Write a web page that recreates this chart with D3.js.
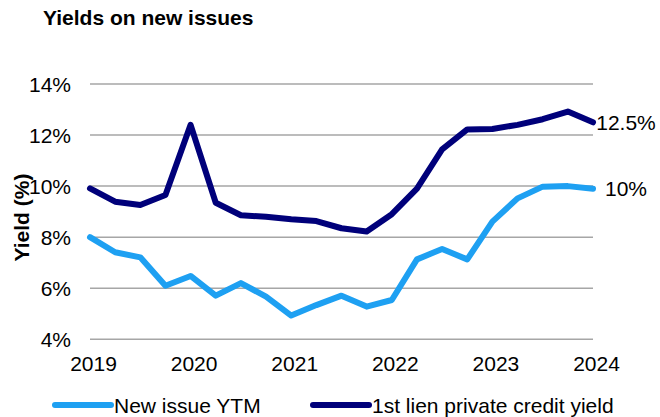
<!DOCTYPE html>
<html>
<head>
<meta charset="utf-8">
<script src="https://cdn.jsdelivr.net/npm/d3@7"></script>
<style>
  html, body { margin: 0; padding: 0; background: #fff; }
  svg { display: block; font-family: "Liberation Sans", Arial, sans-serif; }
</style>
</head>
<body>
<svg id="chart" width="660" height="417"></svg>
<script>
// Quarterly observations, Q1 2019 through Q1 2024
const quarters = d3.range(21).map(i => 2019 + i / 4);
const newIssueYTM = [8.0, 7.41, 7.21, 6.1, 6.48, 5.71, 6.2, 5.67, 4.93, 5.34, 5.71,
                     5.28, 5.54, 7.13, 7.54, 7.13, 8.61, 9.52, 9.98, 10.0, 9.9];
const firstLienYield = [9.91, 9.39, 9.26, 9.65, 12.4, 9.35, 8.86, 8.8, 8.7, 8.63, 8.35,
                        8.22, 8.9, 9.9, 11.44, 12.22, 12.24, 12.4, 12.62, 12.92, 12.5];
const yearTicks = [2019, 2020, 2021, 2022, 2023, 2024];
const yTicks = [4, 6, 8, 10, 12, 14];

const seriesNames = ["New issue YTM", "1st lien private credit yield"];
const seriesColors = ["#1ea0f2", "#00007a"];
const seriesValues = [newIssueYTM, firstLienYield];

const svg = d3.select("#chart");
const x = d3.scaleLinear().domain([2019, 2024]).range([90, 593]);
const y = d3.scaleLinear().domain([4, 14]).range([339.3, 84]);

// Title
svg.append("text")
  .attr("x", 43).attr("y", 25)
  .attr("font-size", 21).attr("font-weight", "bold")
  .attr("fill", "#000")
  .text("Yields on new issues");

// Horizontal gridlines
svg.append("g").selectAll("line").data(yTicks).join("line")
  .attr("x1", x(2019)).attr("x2", x(2024))
  .attr("y1", d => y(d)).attr("y2", d => y(d))
  .attr("stroke", "#a6a6a6").attr("stroke-width", 1.5);

// Y axis labels
const yAxis = d3.axisLeft(y).tickValues(yTicks).tickFormat(d => d + "%").tickSize(0).tickPadding(0);
svg.append("g").attr("transform", "translate(71,0)").call(yAxis)
  .call(g => g.select(".domain").remove())
  .call(g => g.selectAll("text").attr("font-size", 21).attr("font-family", "Liberation Sans, Arial, sans-serif")
    .attr("fill", "#000").attr("dy", "0.36em"));

// X axis labels
const xAxis = d3.axisBottom(x).tickValues(yearTicks).tickFormat(d3.format("d")).tickSize(0).tickPadding(0);
svg.append("g").attr("transform", "translate(3,356)").call(xAxis)
  .call(g => g.select(".domain").remove())
  .call(g => g.selectAll("text").attr("font-size", 21).attr("font-family", "Liberation Sans, Arial, sans-serif")
    .attr("fill", "#000").attr("dy", "0.72em"));

// Y axis title
svg.append("text")
  .attr("transform", "translate(29,217.5) rotate(-90)")
  .attr("text-anchor", "middle")
  .attr("font-size", 21).attr("font-weight", "bold")
  .text("Yield (%)");

// Series lines
const line = d3.line().x((d, i) => x(quarters[i])).y(d => y(d));
seriesValues.forEach((vals, s) => {
  svg.append("path")
    .datum(vals)
    .attr("d", line)
    .attr("fill", "none")
    .attr("stroke", seriesColors[s])
    .attr("stroke-width", 6)
    .attr("stroke-linejoin", "round")
    .attr("stroke-linecap", "round");
});

// End-of-series value labels (rounded to the nearest half point)
const endFmt = v => d3.format("~f")(Math.round(v * 2) / 2) + "%";
seriesValues.forEach(vals => {
  const v = vals[vals.length - 1];
  svg.append("text")
    .attr("x", x(2024) + 33).attr("y", y(v))
    .attr("dy", "0.36em")
    .attr("text-anchor", "middle")
    .attr("font-size", 21)
    .text(endFmt(v));
});

// Legend
const legendX = [55, 313];
seriesNames.forEach((name, s) => {
  const g = svg.append("g").attr("transform", `translate(${legendX[s]},405)`);
  g.append("line")
    .attr("x1", 0).attr("x2", 56).attr("y1", 0).attr("y2", 0)
    .attr("stroke", seriesColors[s]).attr("stroke-width", 6).attr("stroke-linecap", "round");
  g.append("text")
    .attr("x", 59).attr("y", 7.5)
    .attr("font-size", 21)
    .text(name);
});
</script>
</body>
</html>
